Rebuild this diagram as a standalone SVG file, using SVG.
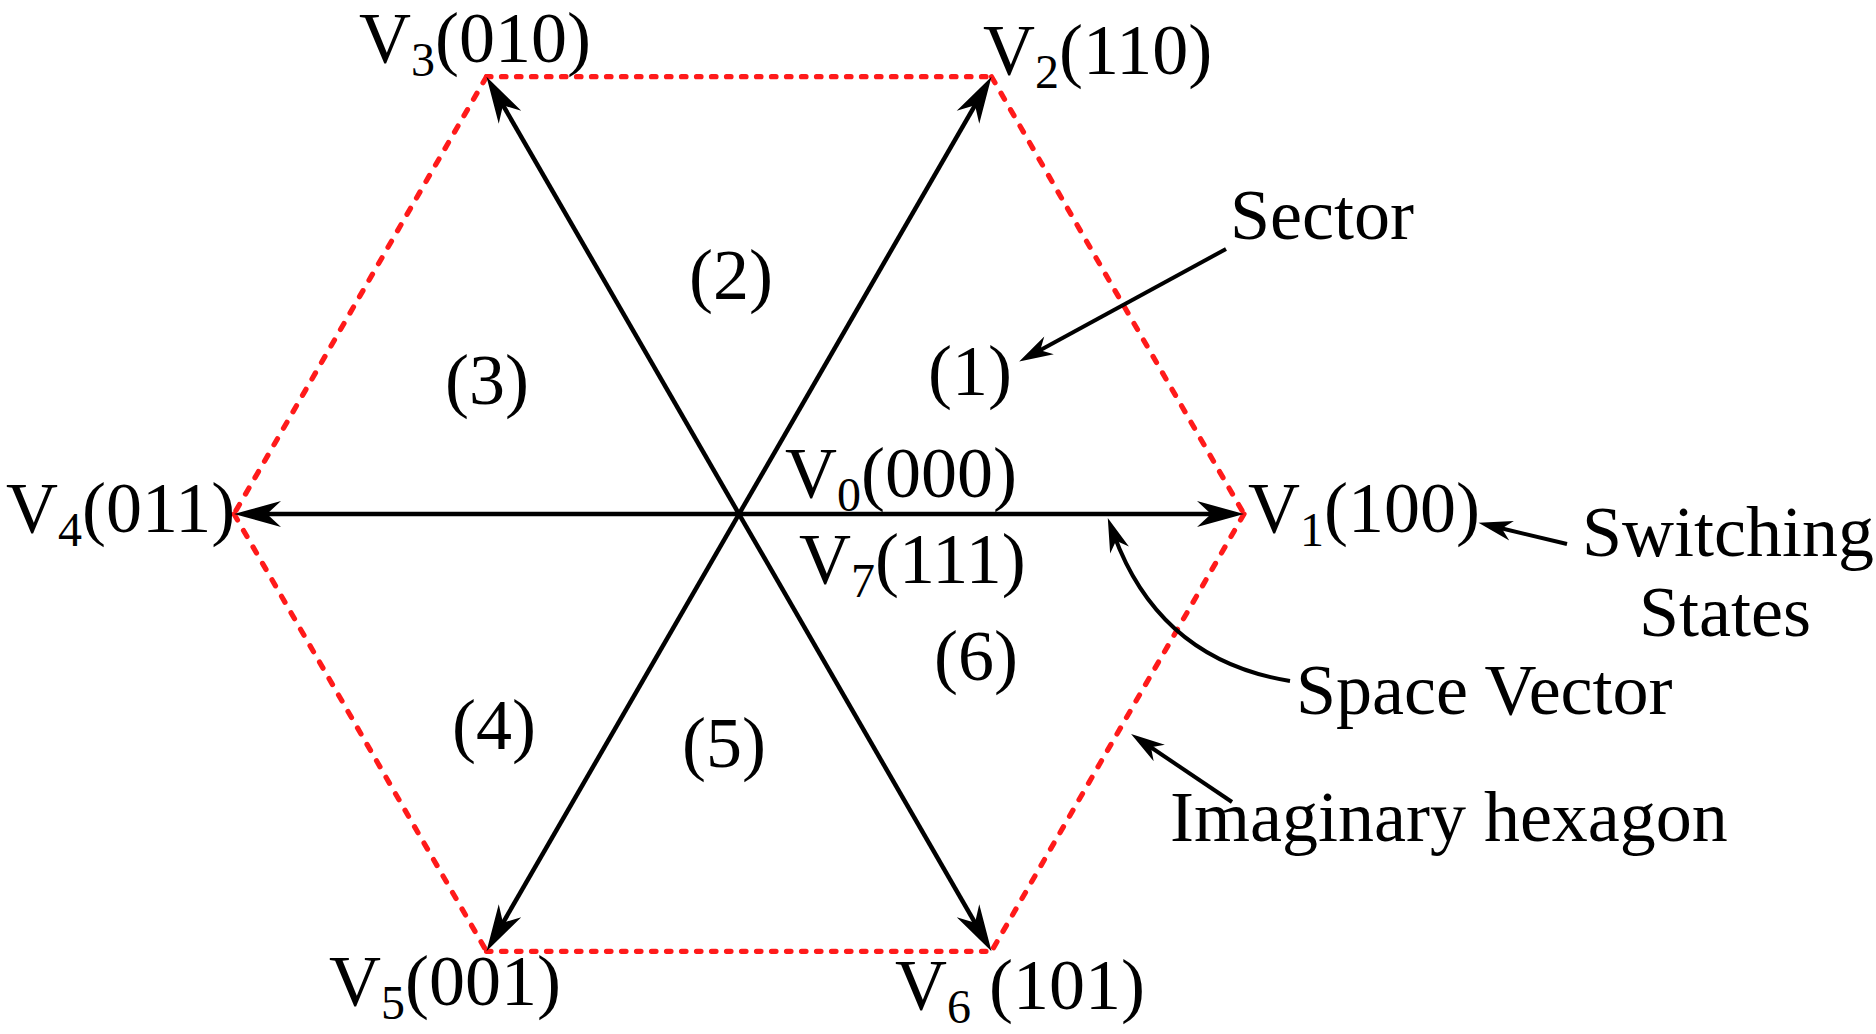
<svg xmlns="http://www.w3.org/2000/svg" width="1876" height="1034" viewBox="0 0 1876 1034">
<style>
text{font-family:"Liberation Serif","Times New Roman",serif;font-size:72px;fill:#000}
.s{font-size:48px}
.m{text-anchor:middle}
.vec{stroke:#000;stroke-width:4.5;fill:none;marker-end:url(#big)}
.lead{stroke:#000;stroke-width:4;fill:none;marker-end:url(#small)}
.hex{stroke:#ff1a1a;stroke-width:5.2;fill:none;stroke-linecap:round}
.hh{stroke-dasharray:4.5 10.5}
.hd{stroke-dasharray:7 12}
</style>
<defs>
<marker id="big" markerUnits="userSpaceOnUse" markerWidth="80" markerHeight="40" viewBox="-30 -20 80 40" refX="0" refY="0" orient="auto" overflow="visible">
<path d="M25,0 L-22,-13 L-8,0 L-22,13 Z" fill="#000"/>
</marker>
<marker id="small" markerUnits="userSpaceOnUse" markerWidth="60" markerHeight="30" viewBox="-30 -15 60 30" refX="0" refY="0" orient="auto" overflow="visible">
<path d="M18,0 L-16,-10 L-6,0 L-16,10 Z" fill="#000"/>
</marker>
</defs>
<g id="hexagon">
<path class="hex hh" d="M486.5,76.7 H991.5"/>
<path class="hex hh" d="M486.5,951.3 H991.5"/>
<path class="hex hd" d="M991.5,76.7 L1244,514"/>
<path class="hex hd" d="M1244,514 L991.5,951.3"/>
<path class="hex hd" d="M486.5,76.7 L234,514"/>
<path class="hex hd" d="M234,514 L486.5,951.3"/>
</g>
<g id="connectors">
<line class="vec" x1="739" y1="514" x2="1219" y2="514"/>
<line class="vec" x1="739" y1="514" x2="259" y2="514"/>
<line class="vec" x1="739" y1="514" x2="979" y2="98.3"/>
<line class="vec" x1="739" y1="514" x2="499" y2="98.3"/>
<line class="vec" x1="739" y1="514" x2="499" y2="929.7"/>
<line class="vec" x1="739" y1="514" x2="979" y2="929.7"/>
<line class="lead" x1="1226" y1="249" x2="1035" y2="353"/>
<line class="lead" x1="1567" y1="544" x2="1496" y2="527"/>
<path class="lead" stroke-width="3.5" d="M1290,681 Q1160,660 1114,535"/>
<line class="lead" stroke-width="3.5" x1="1232" y1="802" x2="1146" y2="744"/>
</g>
<g id="V3"><text x="359" y="62">V<tspan class="s" dy="14">3</tspan><tspan dy="-14">(010)</tspan></text></g>
<g id="V2"><text x="983" y="74">V<tspan class="s" dy="14">2</tspan><tspan dy="-14">(110)</tspan></text></g>
<g id="V4"><text x="6" y="532">V<tspan class="s" dy="14">4</tspan><tspan dy="-14">(011)</tspan></text></g>
<g id="V1"><text x="1248" y="532">V<tspan class="s" dy="14">1</tspan><tspan dy="-14">(100)</tspan></text></g>
<g id="V0"><text x="785" y="497">V<tspan class="s" dy="14">0</tspan><tspan dy="-14">(000)</tspan></text></g>
<g id="V7"><text x="799" y="583">V<tspan class="s" dy="14">7</tspan><tspan dy="-14">(111)</tspan></text></g>
<g id="V5"><text x="329" y="1005">V<tspan class="s" dy="14">5</tspan><tspan dy="-14">(001)</tspan></text></g>
<g id="V6"><text x="895" y="1009">V<tspan class="s" dy="14">6</tspan><tspan dy="-14"> (101)</tspan></text></g>
<g id="sector1"><text class="m" x="970" y="395">(1)</text></g>
<g id="sector2"><text class="m" x="731" y="299">(2)</text></g>
<g id="sector3"><text class="m" x="487" y="404">(3)</text></g>
<g id="sector4"><text class="m" x="494" y="749">(4)</text></g>
<g id="sector5"><text class="m" x="724" y="767">(5)</text></g>
<g id="sector6"><text class="m" x="976" y="680">(6)</text></g>
<g id="label-sector"><text x="1230" y="239">Sector</text></g>
<g id="label-switching"><text x="1582" y="556">Switching</text><text x="1639" y="636">States</text></g>
<g id="label-space"><text x="1296" y="714">Space Vector</text></g>
<g id="label-hexagon"><text x="1170" y="841">Imaginary hexagon</text></g>
</svg>
